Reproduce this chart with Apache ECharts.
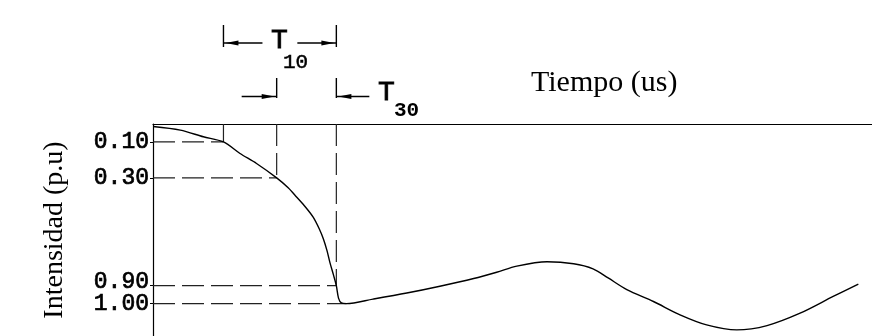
<!DOCTYPE html>
<html>
<head>
<meta charset="utf-8">
<script src="https://cdn.jsdelivr.net/npm/echarts@6/dist/echarts.min.js"></script>
<style>
  html, body { margin: 0; padding: 0; background: #ffffff; }
  #chart { width: 872px; height: 336px; }
</style>
</head>
<body>
<div id="chart"></div>
<script>
// Current front waveform (per unit, drawn downward) against time.
const waveTime = [0.00, 0.38, 0.70, 0.98, 1.21, 1.44, 1.72, 1.88, 2.00, 2.12, 2.23, 2.31, 2.37, 2.42, 2.46, 2.51, 2.55,
                  2.58, 2.62, 2.69,
                  3.06, 3.53, 3.99, 4.46, 4.78, 5.06, 5.48, 5.85, 6.12, 6.33, 6.59, 6.96, 7.33, 7.70,
                  8.12, 8.54, 9.00, 9.46, 9.81];
const waveLevel = [0.014, 0.034, 0.071, 0.10, 0.164, 0.22, 0.30, 0.355, 0.408, 0.462, 0.52, 0.582, 0.640, 0.705, 0.770, 0.840, 0.90,
                   0.969, 0.996, 1.00,
                   0.975, 0.941, 0.903, 0.860, 0.825, 0.791, 0.767, 0.778, 0.806, 0.857, 0.922, 0.988, 1.062, 1.118,
                   1.146, 1.122, 1.053, 0.960, 0.891];

// Reference levels and the instants at which the front crosses them.
const crossLevels = [0.10, 0.30, 0.90, 1.00];
const crossTimes = [0.98, 1.72, 2.55, 2.69];
const tickLabels = ['0.10', '0.30', '0.90', '1.00'];

const xMax = 10;
const yMax = 1.18;

const chart = echarts.init(document.getElementById('chart'), null, { renderer: 'canvas' });

const dash = [22, 7];
const guideSeries = [];
crossLevels.forEach((lvl, i) => {
  guideSeries.push({
    type: 'line', silent: true, symbol: 'none', animation: false,
    lineStyle: { color: '#222', width: 1.2, type: dash },
    data: [[0, lvl], [crossTimes[i], lvl]]
  });
  if (i < 3) {
    guideSeries.push({
      type: 'line', silent: true, symbol: 'none', animation: false,
      lineStyle: { color: '#222', width: 1.2, type: dash },
      data: [[crossTimes[i], 0], [crossTimes[i], lvl]]
    });
  }
});

const labelText = v => tickLabels[crossLevels.findIndex(l => Math.abs(l - v) < 1e-6)];
const labelStyle = {
  show: true, margin: 4, hideOverlap: false, showMinLabel: true, showMaxLabel: true,
  formatter: labelText,
  fontFamily: 'Liberation Mono', fontSize: 23, color: '#000',
  textBorderColor: '#000', textBorderWidth: 0.7
};
// The 0.90 and 1.00 labels sit close together, so they live on two overlaid axes;
// the 0.90 label is nudged slightly upward.
const primaryLevels = crossLevels.filter((_, i) => i !== 2);
const secondaryLevels = [crossLevels[2]];

const option = {
  backgroundColor: '#ffffff',
  animation: false,
  grid: { left: 153, right: 0, top: 124, bottom: 0, containLabel: false },
  xAxis: {
    type: 'value', position: 'top', min: 0, max: xMax,
    axisLine: { show: true, onZero: false, lineStyle: { color: '#000', width: 1.2 } },
    axisTick: { show: false }, axisLabel: { show: false }, splitLine: { show: false }
  },
  yAxis: [{
    type: 'value', inverse: true, min: 0, max: yMax, position: 'left',
    name: 'Intensidad (p.u)', nameLocation: 'middle', nameRotate: 90, nameGap: 84,
    nameTextStyle: { fontFamily: 'Liberation Serif', fontSize: 28, color: '#000' },
    axisLine: { show: true, onZero: false, lineStyle: { color: '#000', width: 1.2 } },
    axisTick: { show: true, inside: false, length: 3, customValues: primaryLevels, lineStyle: { color: '#000' } },
    axisLabel: Object.assign({ customValues: primaryLevels }, labelStyle),
    splitLine: { show: false }
  }, {
    type: 'value', inverse: true, min: 0, max: yMax, position: 'left', offset: 0,
    axisLine: { show: false, onZero: false },
    axisTick: { show: true, inside: false, length: 3, customValues: secondaryLevels, lineStyle: { color: '#000' } },
    axisLabel: Object.assign({ customValues: secondaryLevels, verticalAlign: 'bottom', lineHeight: 8 }, labelStyle),
    splitLine: { show: false }
  }],
  series: guideSeries.concat([{
    type: 'line', silent: true, symbol: 'none', smooth: 0.3, animation: false,
    lineStyle: { color: '#000', width: 1.4 },
    data: waveTime.map((t, i) => [t, waveLevel[i]])
  }])
};
chart.setOption(option);

// Time-interval annotations above the plot, positioned from the crossing instants.
const px = t => chart.convertToPixel({ xAxisIndex: 0 }, t);
const x10 = px(crossTimes[0]);
const x30 = px(crossTimes[1]);
const x90 = px(crossTimes[2]);

const ink = '#000';
function vbar(x, y1, y2) {
  return { type: 'line', shape: { x1: x, y1: y1, x2: x, y2: y2 }, style: { stroke: ink, lineWidth: 1.4 } };
}
function arrow(tipX, y, dir, len) {
  // dir = -1 points left, +1 points right
  const tail = tipX - dir * len;
  const headBack = tipX - dir * 15;
  const headTip = tipX - dir * 2;
  return [
    { type: 'line', shape: { x1: tail, y1: y, x2: tipX, y2: y }, style: { stroke: ink, lineWidth: 1.3 } },
    { type: 'polygon', shape: { points: [[headTip, y], [headBack, y - 2.6], [headBack, y + 2.6]] }, style: { fill: ink } }
  ];
}
function label(text, x, y, size, bold, border) {
  return {
    type: 'text', x: x, y: y,
    style: { text: text, fill: ink, font: (bold ? 'bold ' : '') + size + 'px "Liberation Mono"',
             textAlign: 'left', textVerticalAlign: 'bottom',
             stroke: ink, lineWidth: border }
  };
}

const graphics = [
  vbar(x10, 25, 47), vbar(x90, 25, 47),
  ...arrow(x10, 43, -1, 39),
  ...arrow(x90, 43, 1, 39),
  label('T', 271, 55, 28, false, 0.9),
  label('10', 283, 73, 21, false, 0.5),
  vbar(x30, 78, 98), vbar(x90, 78, 98),
  ...arrow(x30, 96.5, 1, 35),
  ...arrow(x90, 96.5, -1, 33),
  label('T', 378, 107, 28, false, 0.9),
  label('30', 394, 121, 21, true, 0),
  {
    type: 'text', x: 531, y: 98,
    style: { text: 'Tiempo (us)', fill: ink, font: '30px "Liberation Serif"',
             textAlign: 'left', textVerticalAlign: 'bottom' }
  }
];
chart.setOption({ graphic: graphics });
</script>
</body>
</html>
